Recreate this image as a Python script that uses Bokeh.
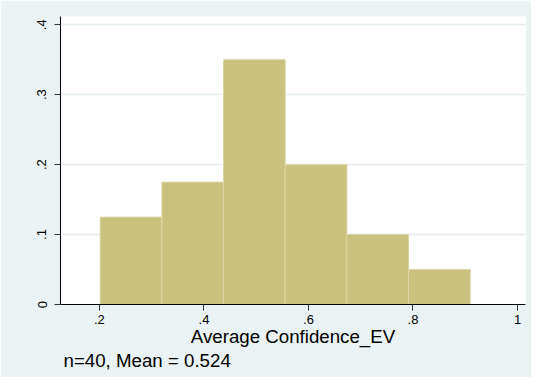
from bokeh.plotting import figure
from bokeh.models import FixedTicker, Range1d, Title
from bokeh.embed import file_html
from bokeh.resources import INLINE

# Data
bin_edges = [0.2015, 0.3195, 0.4375, 0.5555, 0.6735, 0.7915, 0.9095]
counts = [5, 7, 14, 8, 4, 2]
n_obs = 40
fractions = [c / n_obs for c in counts]
x_ticks = [0.2, 0.4, 0.6, 0.8, 1.0]
x_tick_labels = [".2", ".4", ".6", ".8", "1"]
y_ticks = [0.0, 0.1, 0.2, 0.3, 0.4]
y_tick_labels = ["0", ".1", ".2", ".3", ".4"]
x_title = "Average Confidence_EV"
note = "n=40, Mean = 0.524"

BG = "#EAF2F3"
FONT = "Liberation Sans"

p = figure(width=531, height=377, output_backend="svg", toolbar_location=None,
           x_range=Range1d(0.1255, 1.0153), y_range=Range1d(0, 0.4118),
           min_border_left=60, min_border_right=6, min_border_top=16, min_border_bottom=73)
p.border_fill_color = BG
p.background_fill_color = "white"
p.outline_line_color = None

p.quad(left=bin_edges[:-1], right=bin_edges[1:], bottom=0, top=fractions,
       fill_color="#C9C17E", line_color="#DCD6A6", line_width=1)

# grid
p.xgrid.visible = False
p.ygrid.ticker = FixedTicker(ticks=y_ticks[1:])
p.ygrid.grid_line_color = "#E3ECEF"
p.ygrid.grid_line_width = 1.3

# axes
for ax in (p.xaxis[0], p.yaxis[0]):
    ax.axis_line_color = "black"
    ax.axis_line_width = 1
    ax.major_tick_line_color = "#333333"
    ax.major_tick_out = 6
    ax.major_tick_in = 0
    ax.minor_tick_line_color = None
    ax.major_label_text_font = FONT
    ax.major_label_text_font_size = "13px"
    ax.major_label_text_color = "black"

p.xaxis.ticker = FixedTicker(ticks=x_ticks)
p.xaxis.major_label_overrides = {t: l for t, l in zip(x_ticks, x_tick_labels)}
p.xaxis.major_label_standoff = 4
p.xaxis.axis_label = x_title
p.xaxis.axis_label_text_font = FONT
p.xaxis.axis_label_text_font_size = "18.7px"
p.xaxis.axis_label_text_font_style = "normal"
p.xaxis.axis_label_text_color = "black"
p.xaxis.axis_label_standoff = -1

p.yaxis.ticker = FixedTicker(ticks=y_ticks)
p.yaxis.major_label_overrides = {t: l for t, l in zip(y_ticks, y_tick_labels)}
p.yaxis.major_label_orientation = "vertical"
p.yaxis.major_label_standoff = 8

note_title = Title(text=note, align="left", offset=3,
                   text_font=FONT, text_font_size="18.7px",
                   text_font_style="normal", text_color="black")
try:
    note_title.standoff = -4
except Exception:
    note_title.standoff = 0
p.add_layout(note_title, "below")

open("out.html", "w").write(file_html(p, INLINE))
